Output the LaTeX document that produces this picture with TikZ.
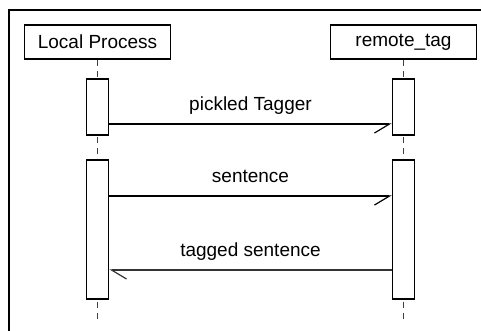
\documentclass[tikz,border=0pt]{standalone}
\usepackage{fontspec}
\setmainfont{Liberation Sans}
\usetikzlibrary{arrows.meta,positioning}

\begin{document}
\begin{tikzpicture}[x=1pt,y=-1pt,
    head/.style={draw,line width=1.2pt,minimum width=146pt,minimum height=34pt,inner sep=0pt,font=\fontsize{19}{22}\selectfont},
    act/.style={draw,line width=1.2pt,fill=white,minimum width=22.5pt,inner sep=0pt},
    life/.style={draw=black!75,line width=1.6pt,dash pattern=on 6pt off 5pt},
    msg/.style={line width=1.2pt,-{Straight Barb[length=15pt,width=18pt,harpoon,swap,line width=1.2pt]}},
    rmsg/.style={line width=1.4pt,draw=black!80,-{Straight Barb[length=15pt,width=18pt,harpoon,line width=1.2pt]}},
    lbl/.style={midway,anchor=base,yshift=13.5pt,font=\fontsize{19}{22}\selectfont}]
    \useasboundingbox (0,0) rectangle (481,330);
    % frame, running off the page
    \draw[line width=1.2pt] (9,345) -- (9,10) -- (495,10);
    % lifeline heads
    \node[head] (lp) at (97.5,42) {Local Process};
    \node[head] (rt) at (403.5,42) {remote\_tag};
    \coordinate (lpend) at (97.5,320);
    \coordinate (rtend) at (403.5,320);
    \draw[life] (lp.south) -- (lpend);
    \draw[life] (rt.south) -- (rtend);
    % activations
    \node[act,minimum height=56pt] (la1) at (97.5,107) {};
    \node[act,minimum height=139pt] (la2) at (97.5,229.5) {};
    \node[act,minimum height=56pt] (ra1) at (403.5,107) {};
    \node[act,minimum height=139pt] (ra2) at (403.5,229.5) {};
    % messages
    \draw[msg] (la1.east |- 0,124) -- node[lbl] {pickled Tagger} (ra1.west |- 0,124);
    \draw[msg] (la2.east |- 0,196) -- node[lbl] {sentence} (ra2.west |- 0,196);
    \draw[rmsg] (ra2.west |- 0,270) -- node[lbl] {tagged sentence} (la2.east |- 0,270);
\end{tikzpicture}
\end{document}
